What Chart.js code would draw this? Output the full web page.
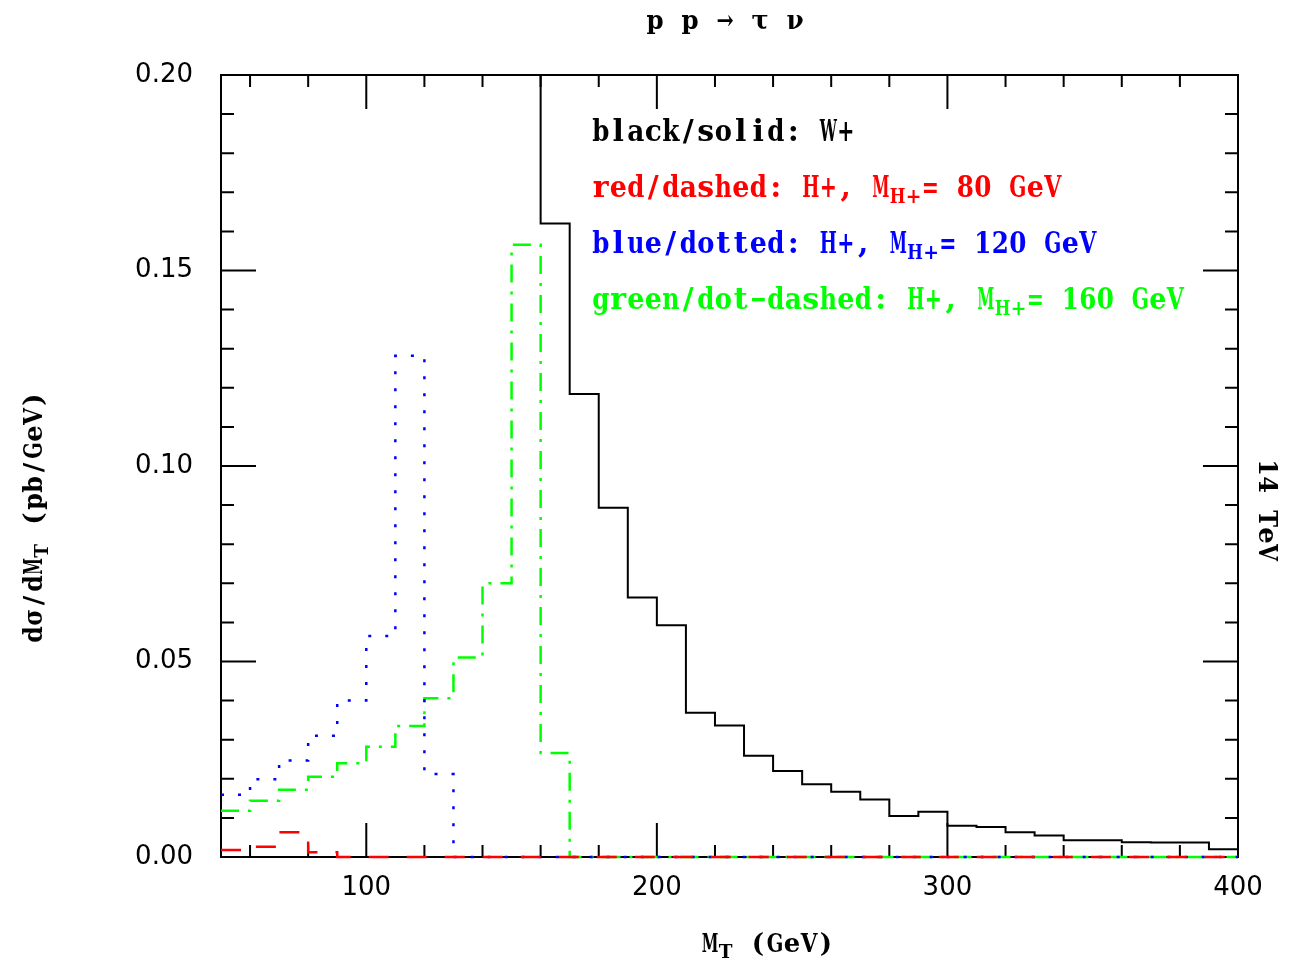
<!DOCTYPE html>
<html>
<head>
<meta charset="utf-8">
<script src="https://cdn.jsdelivr.net/npm/chart.js@4"></script>
<style>
  html, body { margin: 0; padding: 0; background: #fff; }
  #wrap { width: 1303px; height: 970px; }
</style>
</head>
<body>
<div id="wrap"><canvas id="graph1"></canvas></div>
<script>
// lower edges of the 10 GeV bins in M_T
let binLow = [50, 60, 70, 80, 90, 100, 110, 120, 130, 140, 150, 160, 170, 180, 190, 200, 210, 220, 230, 240,
  250, 260, 270, 280, 290, 300, 310, 320, 330, 340, 350, 360, 370, 380, 390];
let binTop = 400;

// black/solid : W+ (bins below 160 are off the scale)
let wPlus = [null, null, null, null, null, null, null, null, null, null, 0.25, 0.162, 0.1184, 0.0893, 0.0664,
  0.0593, 0.0369, 0.0336, 0.0259, 0.0220, 0.0186, 0.0167, 0.0147, 0.0105, 0.0116, 0.0080, 0.0077, 0.0063,
  0.0055, 0.0043, 0.0043, 0.0038, 0.0037, 0.0037, 0.0020];
// red/dashed : H+, M = 80 GeV
let hPlus80 = [0.0018, 0.0026, 0.0063, 0.0012, 0, 0, 0, 0, 0, 0, 0, 0, 0, 0, 0, 0, 0, 0, 0, 0,
  0, 0, 0, 0, 0, 0, 0, 0, 0, 0, 0, 0, 0, 0, 0];
// blue/dotted : H+, M = 120 GeV
let hPlus120 = [0.0159, 0.0199, 0.0247, 0.0310, 0.0400, 0.0565, 0.1282, 0.0212, 0, 0, 0, 0, 0, 0, 0, 0, 0, 0, 0, 0,
  0, 0, 0, 0, 0, 0, 0, 0, 0, 0, 0, 0, 0, 0, 0];
// green/dot-dashed : H+, M = 160 GeV
let hPlus160 = [0.0118, 0.0144, 0.0172, 0.0205, 0.0240, 0.0282, 0.0335, 0.0406, 0.0510, 0.0700, 0.1566, 0.0266,
  0, 0, 0, 0, 0, 0, 0, 0, 0, 0, 0, 0, 0, 0, 0, 0, 0, 0, 0, 0, 0, 0, 0];

let xTickLabels = [100, 200, 300, 400];
let yTickLabels = [0, 0.05, 0.10, 0.15, 0.20];

//styles de texte "machine à écrire" : police, police des indices, largeur des cases
let legendStyle = { font: "bold 30px 'DejaVu Serif'", subFont: "bold 21px 'DejaVu Serif'", cell: 17.5, subCell: 16, drop: 9 };
let titleStyle = { font: "bold 26px 'DejaVu Serif'", subFont: "bold 18px 'DejaVu Serif'", cell: 17.5, subCell: 13, drop: 8 };
let axisStyle = { font: "bold 26px 'DejaVu Serif'", subFont: "bold 19px 'DejaVu Serif'", cell: 17, subCell: 14, drop: 8 };

//transforme un histogramme en points pour une ligne en escalier
function histo(vals) {
  let pts = binLow.map((x, i) => ({ x: x, y: vals[i] }));
  pts.push({ x: binTop, y: vals[vals.length - 1] });
  return pts;
}

//texte à chasse fixe avec indices
function monoText(ctx, parts, x, y, align, color, st) {
  ctx.save();
  ctx.fillStyle = color;
  ctx.textBaseline = "middle";
  ctx.textAlign = "center";
  let w = 0;
  parts.forEach(p => { w += [...p.t].length * (p.sub ? st.subCell : st.cell); });
  let cx = align === "center" ? x - w / 2 : x;
  parts.forEach(p => {
    let c = p.sub ? st.subCell : st.cell;
    ctx.font = p.sub ? st.subFont : st.font;
    [...p.t].forEach(ch => {
      let gw = ctx.measureText(ch).width;
      let k = Math.min(1, (c * 0.98) / gw);
      ctx.save();
      ctx.translate(cx + c / 2, p.sub ? y + st.drop : y);
      ctx.scale(k, 1);
      ctx.fillText(ch, 0, 0);
      ctx.restore();
      cx += c;
    });
  });
  ctx.restore();
}

let frame = {
  id: "frame",
  beforeDatasetsDraw(chart) {
    let ctx = chart.ctx;
    let a = chart.chartArea;
    let xs = chart.scales.x;
    let ys = chart.scales.y;
    ctx.save();
    ctx.strokeStyle = "#000";
    ctx.lineWidth = 2;
    ctx.strokeRect(a.left, a.top, a.right - a.left, a.bottom - a.top);
    ctx.beginPath();
    for (let v = 60; v < 400; v += 20) {
      let px = xs.getPixelForValue(v);
      let len = v % 100 === 0 ? 34 : 12;
      ctx.moveTo(px, a.bottom); ctx.lineTo(px, a.bottom - len);
      ctx.moveTo(px, a.top); ctx.lineTo(px, a.top + len);
    }
    for (let k = 1; k < 20; k++) {
      let py = ys.getPixelForValue(k / 100);
      let len = k % 5 === 0 ? 35 : 13;
      ctx.moveTo(a.left, py); ctx.lineTo(a.left + len, py);
      ctx.moveTo(a.right, py); ctx.lineTo(a.right - len, py);
    }
    ctx.stroke();
    ctx.restore();
  },
  afterDraw(chart) {
    let ctx = chart.ctx;
    //titre
    monoText(ctx, [{ t: "p p \u2192 \u03c4 \u03bd" }], 725, 22, "center", "#000", titleStyle);
    //légende
    let lx = 592;
    monoText(ctx, [{ t: "black/solid: W+" }], lx, 133, "left", "#000", legendStyle);
    monoText(ctx, [{ t: "red/dashed: H+, M" }, { t: "H+", sub: true }, { t: "= 80 GeV" }], lx, 189, "left", "#ff0000", legendStyle);
    monoText(ctx, [{ t: "blue/dotted: H+, M" }, { t: "H+", sub: true }, { t: "= 120 GeV" }], lx, 245, "left", "#0000ff", legendStyle);
    monoText(ctx, [{ t: "green/dot\u2212dashed: H+, M" }, { t: "H+", sub: true }, { t: "= 160 GeV" }], lx, 301, "left", "#00ff00", legendStyle);
    //titres des axes
    monoText(ctx, [{ t: "M" }, { t: "T", sub: true }, { t: " (GeV)" }], 768, 945, "center", "#000", axisStyle);
    ctx.save();
    ctx.translate(35, 517);
    ctx.rotate(-Math.PI / 2);
    monoText(ctx, [{ t: "d\u03c3/dM" }, { t: "T", sub: true }, { t: " (pb/GeV)" }], 0, 0, "center", "#000", axisStyle);
    ctx.restore();
    ctx.save();
    ctx.translate(1266, 510);
    ctx.rotate(Math.PI / 2);
    monoText(ctx, [{ t: "14 TeV" }], 0, 0, "center", "#000", axisStyle);
    ctx.restore();
  }
};

let zeroClip = { left: 2, top: 0, right: 2, bottom: 3 };

let ctx = document.getElementById("graph1");
new Chart(ctx, {
  type: "line",
  data: {
    datasets: [
      { label: "W+", data: histo(wPlus), borderColor: "#000000", borderWidth: 2, clip: zeroClip },
      { label: "H+ 80", data: histo(hPlus80), borderColor: "#ff0000", borderWidth: 2.5, borderDash: [20, 18], clip: zeroClip },
      { label: "H+ 120", data: histo(hPlus120), borderColor: "#0000ff", borderWidth: 2.5, borderDash: [3, 14], clip: zeroClip },
      { label: "H+ 160", data: histo(hPlus160), borderColor: "#00ff00", borderWidth: 2.5, borderDash: [18, 9, 3, 9], clip: zeroClip },
    ],
  },
  options: {
    responsive: true,
    maintainAspectRatio: false,
    animation: false,
    elements: { point: { radius: 0 }, line: { tension: 0, stepped: "before" } },
    layout: { padding: { top: 75, right: 65, left: 0, bottom: 0 } },
    plugins: { legend: { display: false }, tooltip: { enabled: false } },
    scales: {
      x: {
        type: "linear",
        min: 50,
        max: 400,
        grid: { display: false, drawTicks: false },
        border: { display: false },
        afterFit: s => { s.height = 113; },
        afterBuildTicks: s => { s.ticks = xTickLabels.map(v => ({ value: v })); },
        ticks: { padding: 16, color: "#000", font: { family: "DejaVu Sans", size: 26 }, maxRotation: 0 },
      },
      y: {
        min: 0,
        max: 0.2,
        grid: { display: false, drawTicks: false },
        border: { display: false },
        afterFit: s => { s.width = 221; },
        afterBuildTicks: s => { s.ticks = yTickLabels.map(v => ({ value: v })); },
        ticks: { padding: 28, color: "#000", font: { family: "DejaVu Sans", size: 26 }, callback: v => v.toFixed(2) },
      },
    },
  },
  plugins: [frame],
});
</script>
</body>
</html>
